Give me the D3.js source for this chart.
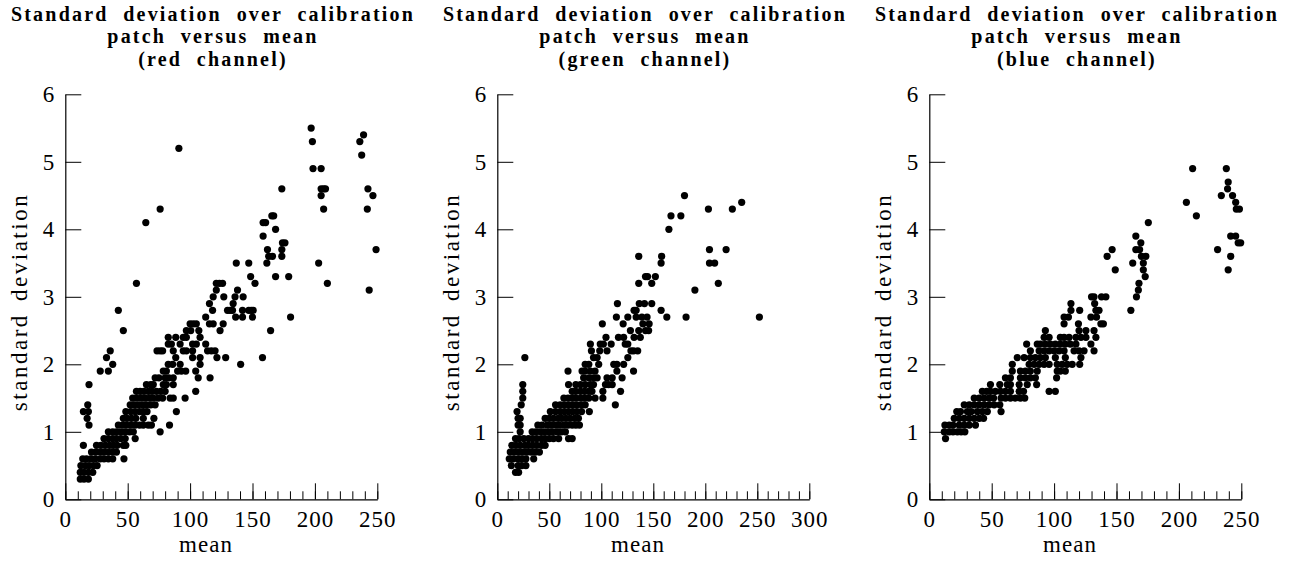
<!DOCTYPE html>
<html>
<head>
<meta charset="utf-8">
<script src="https://cdn.jsdelivr.net/npm/d3@7"></script>
<style>
  body { margin: 0; background: #fff; }
  svg text { font-family: "Liberation Serif", serif; fill: #000; }
</style>
</head>
<body>
<script>
// --- data: [mean, standard deviation] per calibration patch ---
var channels = ["red", "green", "blue"];
var xMaxes = [250, 300, 250];
var yTicks = [0, 1, 2, 3, 4, 5, 6];
var titleLines = ["Standard deviation over calibration", "patch versus mean"];

// rows of [sd, means...]
var redRows = [
  [5.5, 197], [5.4, 239], [5.3, 198, 236], [5.2, 91], [5.1, 237.5],
  [4.9, 198.5, 205], [4.6, 173.5, 205, 207, 208.5, 242.5], [4.5, 205, 246.5],
  [4.3, 76, 207, 242], [4.2, 165.5, 167], [4.1, 64.5, 158.5, 160.5], [4.0, 168.5],
  [3.9, 158.5], [3.8, 174, 176], [3.7, 162, 173.5, 249], [3.6, 163, 166, 173.5],
  [3.5, 137, 147, 161.5, 203], [3.3, 148.5, 168.5, 179],
  [3.2, 57, 121, 123.5, 126, 152, 210], [3.1, 121, 138, 243.5],
  [3.0, 118.5, 127, 136, 142.5], [2.9, 115.5, 134.5],
  [2.8, 42.5, 118, 130, 132, 134, 142, 147, 149, 150.5],
  [2.7, 112.5, 136.5, 142, 150, 180.5],
  [2.6, 100, 102.5, 105, 115.5, 118.5, 126.5],
  [2.5, 46.5, 97, 100.5, 107, 124, 164.5],
  [2.4, 82.5, 88.5, 94.5, 97, 108],
  [2.3, 82.5, 85, 92, 102, 105, 112.5],
  [2.2, 36, 73.5, 76, 78, 86.5, 94.5, 97, 102, 114, 117, 120],
  [2.1, 33, 88.5, 102, 108, 121.5, 128.5, 158],
  [2.0, 38, 82.5, 86, 92, 108, 140.5],
  [1.9, 28, 34.5, 78.5, 81, 90, 93, 96.5, 104.5],
  [1.8, 72, 75, 80, 83, 86.5, 106.5, 116],
  [1.7, 19, 65, 68.5, 70.5, 78.5, 81, 86.5],
  [1.6, 57, 60, 63, 66.5, 69.5, 73, 76.5, 80, 104.5],
  [1.5, 54, 57, 60.5, 64, 67.5, 70.5, 74.5, 78, 84, 86.5, 96],
  [1.4, 18, 52, 55, 58.5, 62, 65, 68.5, 72],
  [1.3, 14.5, 18.5, 48.5, 52.5, 56, 59.5, 62.5, 65.5, 89],
  [1.2, 17.5, 46.5, 49.5, 53, 56.5, 62.5, 71],
  [1.1, 19, 42.5, 46, 49, 52.5, 56, 59.5, 62.5, 66.5, 69, 83.5],
  [1.0, 34.5, 38, 41, 44.5, 48, 51.5, 54.5, 76],
  [0.9, 31, 34.5, 38, 41, 44.5, 48, 56],
  [0.8, 14.5, 25, 28.5, 32, 35.5, 38.5, 41.5, 46.5, 48.5],
  [0.7, 21, 24.5, 28, 31, 34.5, 38, 41],
  [0.6, 14, 17, 20.5, 24, 28, 31, 34.5, 38, 47],
  [0.5, 12.5, 16, 19, 22.5, 25.5],
  [0.4, 12, 15, 18.5, 22],
  [0.3, 12, 15, 18.5]
];

var greenRows = [
  [4.5, 180], [4.4, 235], [4.3, 203, 226], [4.2, 167, 176.5], [4.0, 165],
  [3.7, 204, 220], [3.6, 136, 158], [3.5, 157.5, 204, 209],
  [3.3, 142.5, 144.5, 152], [3.2, 136, 148.5, 212.5], [3.1, 190],
  [2.9, 115.5, 136.5, 141.5, 148.5], [2.8, 131.5, 133.5, 157.5],
  [2.7, 114.5, 125.5, 133.5, 139, 144, 163, 181.5, 252],
  [2.6, 101, 121, 140, 146], [2.5, 128, 136, 142.5, 145.5],
  [2.4, 104.5, 116.5, 121.5, 131.5, 137.5],
  [2.3, 89.5, 99, 102, 109.5, 123, 125.5],
  [2.2, 90.5, 98.5, 105.5, 128.5, 131, 135],
  [2.1, 26.5, 92.5, 96, 125.5],
  [2.0, 84.5, 88, 97.5, 112, 115, 121.5],
  [1.9, 68, 81.5, 84.5, 89.5, 94, 115, 131],
  [1.8, 83, 88, 92.5, 96, 105.5, 110.5, 120],
  [1.7, 24.5, 68.5, 75.5, 80, 84.5, 89.5, 92.5, 104, 107, 110.5],
  [1.6, 24.5, 72, 75.5, 80, 84, 88, 91, 101.5, 118.5],
  [1.5, 24.5, 64, 68, 72, 75.5, 80, 84, 88, 94, 101.5],
  [1.4, 23, 56, 60.5, 64.5, 68.5, 72.5, 76.5, 81, 84.5, 113.5],
  [1.3, 19, 51, 56, 60.5, 64.5, 68.5, 72.5, 76.5, 81, 88.5],
  [1.2, 20, 22, 46, 50, 54, 58.5, 62, 66, 70, 74.5, 78],
  [1.1, 20, 22, 39, 43, 48, 52, 56, 59.5, 64, 68, 72, 75.5, 79],
  [1.0, 22, 33.5, 37, 41.5, 45.5, 49.5, 53, 57.5, 61.5, 65.5],
  [0.9, 17.5, 21, 25.5, 30, 34, 38, 42.5, 46, 50, 54, 59, 68.5, 72],
  [0.8, 14, 18, 22, 26.5, 30, 34, 38, 42.5, 46],
  [0.7, 12.5, 16.5, 20.5, 24.5, 28.5, 32.5, 36.5, 40.5],
  [0.6, 11.5, 15.5, 20, 23.5, 27.5, 35],
  [0.5, 13.5, 20, 23.5, 27.5],
  [0.4, 17.5, 20.5]
];

var blueRows = [
  [4.9, 211, 238], [4.7, 239.5], [4.6, 239], [4.5, 234, 243], [4.4, 206, 245.5],
  [4.3, 246, 248.5], [4.2, 214], [4.1, 175.5], [3.9, 165.5, 241.5, 245.5],
  [3.8, 169.5, 247.5, 249.5], [3.7, 146.5, 165.5, 168.5, 231],
  [3.6, 142.5, 170, 173.5, 241.5], [3.5, 163, 171.5], [3.4, 149, 171.5, 239.5],
  [3.3, 173], [3.2, 168], [3.1, 167.5], [3.0, 130, 132, 138, 141.5, 166],
  [2.9, 113.5, 132.5], [2.8, 113.5, 120.5, 133.5, 136, 161.5],
  [2.7, 108, 111.5, 129.5, 134], [2.6, 108, 119.5, 137.5, 139.5],
  [2.5, 93, 120, 125.5, 132],
  [2.4, 92, 96, 105, 108, 112, 117.5, 121.5, 125.5, 133.5],
  [2.3, 78, 86.5, 89, 93, 97, 101, 105, 109, 113, 117.5, 129.5],
  [2.2, 81, 88, 92, 96, 100, 104, 108, 116, 120, 124, 132],
  [2.1, 70.5, 76, 81, 85, 89, 93, 101, 109, 121.5],
  [2.0, 66.5, 80, 84, 88, 92, 96, 102.5, 106.5, 110.5, 114.5, 120.5],
  [1.9, 66.5, 73, 77, 81, 86.5, 102.5, 105, 109],
  [1.8, 61, 65, 73, 77, 81, 85, 102],
  [1.7, 49, 56.5, 62.5, 65, 72, 78.5, 86],
  [1.6, 42.5, 46, 49, 53, 57, 61, 65, 72, 75.5, 96, 101],
  [1.5, 36, 40, 44, 48, 51.5, 57.5, 61, 65, 69, 73, 76.5],
  [1.4, 28, 32, 36, 40, 44, 48, 52, 56.5],
  [1.3, 22, 25, 30.5, 33.5, 38.5, 42.5, 46.5, 57.5],
  [1.2, 20, 24, 28, 32, 36, 40, 43.5],
  [1.1, 12.5, 16, 19, 24, 28, 32, 37],
  [1.0, 12, 16, 19, 22.5, 25.5, 28.5],
  [0.9, 13]
];

var allRows = [redRows, greenRows, blueRows];

// layout
var width = 1297, height = 563;
var panelW = 432;
var margin = { left: 65.3, top: 94.3 };
var plotW = 312, plotH = 405;

var svg = d3.select("body").append("svg")
  .attr("width", width).attr("height", height);

function flatten(rows) {
  var pts = [];
  rows.forEach(function (r) {
    for (var i = 1; i < r.length; i++) pts.push({ mean: r[i], sd: r[0] });
  });
  return pts;
}

channels.forEach(function (ch, i) {
  var off = i * panelW;
  var xMax = xMaxes[i];
  var x = d3.scaleLinear().domain([0, xMax]).range([0, plotW]);
  var y = d3.scaleLinear().domain([0, 6]).range([plotH, 0]);

  // title
  var lines = titleLines.concat(["(" + ch + " channel)"]);
  svg.append("g").selectAll("text").data(lines).join("text")
    .attr("x", off + 213)
    .attr("y", function (d, k) { return 20.5 + k * 22.5; })
    .attr("text-anchor", "middle")
    .style("font-weight", "bold")
    .style("font-size", "20px")
    .style("letter-spacing", "2.2px")
    .style("word-spacing", "7.5px")
    .text(function (d) { return d; });

  var g = svg.append("g")
    .attr("transform", "translate(" + (off + margin.left) + "," + margin.top + ")");

  // minor x ticks
  var minor = g.append("g")
    .attr("transform", "translate(0," + plotH + ")")
    .call(d3.axisBottom(x).tickValues(d3.range(0, xMax + 1, 10)).tickSize(-8).tickFormat(""));
  minor.select(".domain").remove();

  // major x axis
  g.append("g")
    .attr("transform", "translate(0," + plotH + ")")
    .call(d3.axisBottom(x).tickValues(d3.range(0, xMax + 1, 50))
      .tickSizeInner(-16).tickSizeOuter(0).tickPadding(11));

  // y axis
  g.append("g")
    .call(d3.axisLeft(y).tickValues(yTicks).tickFormat(d3.format("d"))
      .tickSizeInner(-16).tickSizeOuter(0).tickPadding(10));

  g.selectAll(".domain").attr("stroke", "#000").attr("stroke-width", 1.2);
  g.selectAll(".tick line").attr("stroke", "#000").attr("stroke-width", 1);
  g.selectAll(".tick text")
    .style("font-family", "'Liberation Serif', serif")
    .style("font-size", "23px")
    .style("letter-spacing", "1px")
    .attr("fill", "#000");

  // axis labels
  svg.append("text")
    .attr("x", off + 206).attr("y", 552)
    .attr("text-anchor", "middle")
    .style("font-size", "23px")
    .style("letter-spacing", "1px")
    .text("mean");

  svg.append("text")
    .attr("transform", "translate(" + (off + 27) + ",302) rotate(-90)")
    .attr("text-anchor", "middle")
    .style("font-size", "23px")
    .style("letter-spacing", "2.5px")
    .style("word-spacing", "4px")
    .text("standard deviation");

  // points
  g.append("g").selectAll("circle")
    .data(flatten(allRows[i]))
    .join("circle")
    .attr("cx", function (d) { return x(d.mean); })
    .attr("cy", function (d) { return y(d.sd); })
    .attr("r", 3.6)
    .attr("fill", "#000");
});
</script>
</body>
</html>
